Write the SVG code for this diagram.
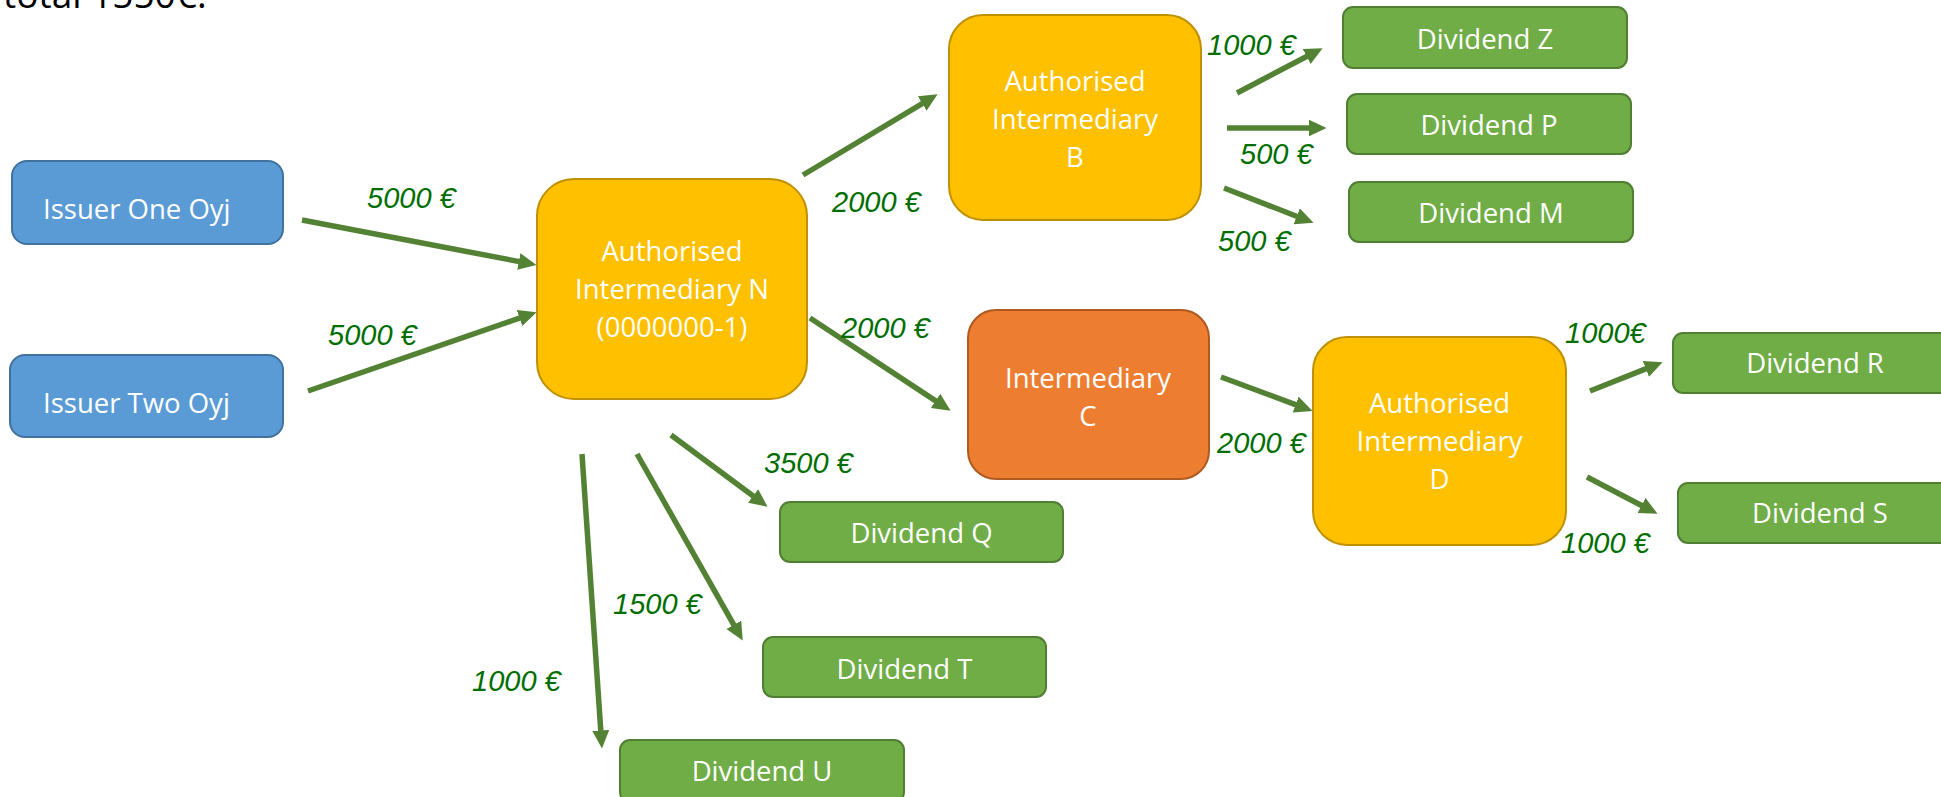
<svg xmlns="http://www.w3.org/2000/svg" width="1941" height="797" viewBox="0 0 1941 797">
<style>
.box text, .t { font-family: "Open Sans", "Noto Sans", sans-serif; font-size: 27.5px; fill: #ffffff; }
.c { text-anchor: middle; }
.blue { fill: #5B9BD5; stroke: #41719C; stroke-width: 2; }
.yel { fill: #FFC000; stroke: #BF9000; stroke-width: 2; }
.org { fill: #ED7D31; stroke: #AE5A21; stroke-width: 2; }
.grn { fill: #70AD47; stroke: #507E32; stroke-width: 2; }
.lbl { font-family: "Liberation Sans", Arial, sans-serif; font-style: italic; font-size: 29px; fill: #006E00; }
.arr line { stroke: #548235; stroke-width: 5.5; marker-end: url(#ah); }
.note { font-family: "Open Sans", "Noto Sans", sans-serif; font-size: 37px; fill: #000000; }
</style>
<defs>
<marker id="ah" markerUnits="userSpaceOnUse" markerWidth="20" markerHeight="18" refX="0.5" refY="8.5" orient="auto">
<path d="M0,0 L18,8.5 L0,17 Z" fill="#548235"/>
</marker>
</defs>
<rect width="1941" height="797" fill="#ffffff"/>
<text class="note" x="3" y="8">total 1550€.</text>

<g id="connectors" class="arr">
<line x1="302" y1="220" x2="519.3" y2="261.6"/>
<line x1="308" y1="391" x2="520" y2="317.9"/>
<line x1="803" y1="175" x2="922.6" y2="103.3"/>
<line x1="810" y1="318" x2="936" y2="401.1"/>
<line x1="671" y1="435" x2="753.5" y2="496.3"/>
<line x1="637" y1="454" x2="734.1" y2="625.3"/>
<line x1="582" y1="454" x2="600.8" y2="731"/>
<line x1="1237" y1="93" x2="1307.1" y2="56.3"/>
<line x1="1227" y1="128" x2="1309" y2="128"/>
<line x1="1224" y1="188" x2="1297.2" y2="216.5"/>
<line x1="1221" y1="377" x2="1296.1" y2="404.8"/>
<line x1="1590" y1="391" x2="1646.3" y2="368.6"/>
<line x1="1587" y1="477" x2="1642" y2="505.7"/>
</g>

<g id="labels">
<text class="lbl" x="367" y="208">5000 €</text>
<text class="lbl" x="328" y="345">5000 €</text>
<text class="lbl" x="832" y="212">2000 €</text>
<text class="lbl" x="841" y="338">2000 €</text>
<text class="lbl" x="764" y="473">3500 €</text>
<text class="lbl" x="613" y="614">1500 €</text>
<text class="lbl" x="472" y="691">1000 €</text>
<text class="lbl" x="1207" y="55">1000 €</text>
<text class="lbl" x="1240" y="164">500 €</text>
<text class="lbl" x="1218" y="251">500 €</text>
<text class="lbl" x="1217" y="453">2000 €</text>
<text class="lbl" x="1565" y="343">1000€</text>
<text class="lbl" x="1561" y="553">1000 €</text>
</g>

<g id="issuer-one" class="box">
<rect class="blue" x="12" y="161" width="271" height="83" rx="15"/>
<text x="43" y="219">Issuer One Oyj</text>
</g>
<g id="issuer-two" class="box">
<rect class="blue" x="10" y="355" width="273" height="82" rx="15"/>
<text x="43" y="413">Issuer Two Oyj</text>
</g>
<g id="intermediary-n" class="box">
<rect class="yel" x="537" y="179" width="270" height="220" rx="37"/>
<text class="c" x="672" y="261">Authorised</text>
<text class="c" x="672" y="299">Intermediary N</text>
<text class="c" x="672" y="337">(0000000-1)</text>
</g>
<g id="intermediary-b" class="box">
<rect class="yel" x="949" y="15" width="252" height="205" rx="34"/>
<text class="c" x="1075" y="91">Authorised</text>
<text class="c" x="1075" y="129">Intermediary</text>
<text class="c" x="1075" y="167">B</text>
</g>
<g id="intermediary-c" class="box">
<rect class="org" x="968" y="310" width="241" height="169" rx="28"/>
<text class="c" x="1088" y="388">Intermediary</text>
<text class="c" x="1088" y="426">C</text>
</g>
<g id="intermediary-d" class="box">
<rect class="yel" x="1313" y="337" width="253" height="208" rx="34"/>
<text class="c" x="1439.5" y="413">Authorised</text>
<text class="c" x="1439.5" y="451">Intermediary</text>
<text class="c" x="1439.5" y="489">D</text>
</g>
<g id="dividend-z" class="box">
<rect class="grn" x="1343" y="7" width="284" height="61" rx="10"/>
<text class="c" x="1485" y="49">Dividend Z</text>
</g>
<g id="dividend-p" class="box">
<rect class="grn" x="1347" y="94" width="284" height="60" rx="10"/>
<text class="c" x="1489" y="135">Dividend P</text>
</g>
<g id="dividend-m" class="box">
<rect class="grn" x="1349" y="182" width="284" height="60" rx="10"/>
<text class="c" x="1491" y="223">Dividend M</text>
</g>
<g id="dividend-r" class="box">
<rect class="grn" x="1673" y="333" width="284" height="60" rx="10"/>
<text class="c" x="1815" y="373">Dividend R</text>
</g>
<g id="dividend-s" class="box">
<rect class="grn" x="1678" y="483" width="284" height="60" rx="10"/>
<text class="c" x="1820" y="523">Dividend S</text>
</g>
<g id="dividend-q" class="box">
<rect class="grn" x="780" y="502" width="283" height="60" rx="10"/>
<text class="c" x="921.5" y="543">Dividend Q</text>
</g>
<g id="dividend-t" class="box">
<rect class="grn" x="763" y="637" width="283" height="60" rx="10"/>
<text class="c" x="904.5" y="679">Dividend T</text>
</g>
<g id="dividend-u" class="box">
<rect class="grn" x="620" y="740" width="284" height="62" rx="10"/>
<text class="c" x="762" y="781">Dividend U</text>
</g>
</svg>
